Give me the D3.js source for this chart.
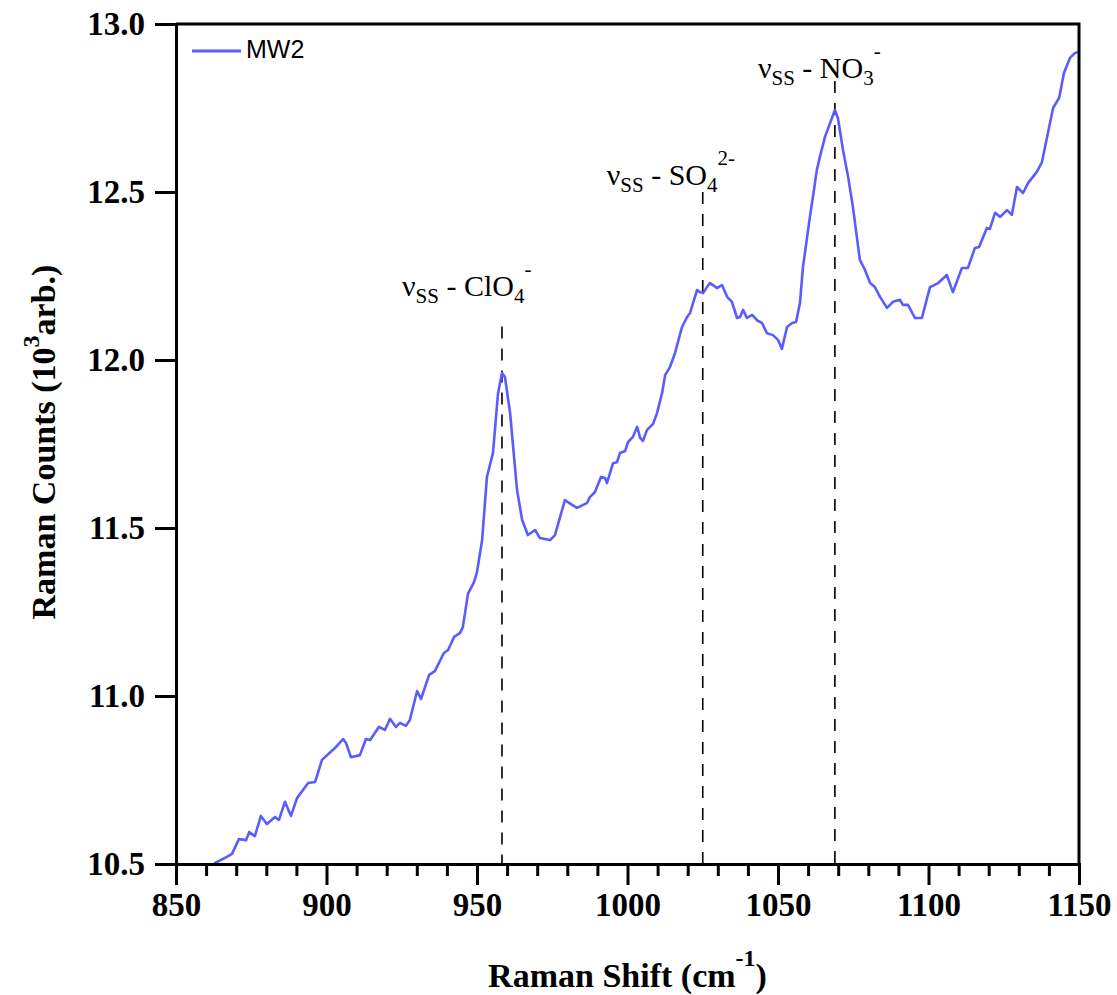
<!DOCTYPE html>
<html>
<head>
<meta charset="utf-8">
<script src="https://cdn.jsdelivr.net/npm/d3@7"></script>
<style>
  body { margin: 0; background: #fff; }
  svg { display: block; }
</style>
</head>
<body>
<div id="chart"><svg width="1117" height="995"></svg></div>
<script>
// Raman spectrum, sample MW2 (x: cm^-1, y: 10^3 counts)
var shift = [860.0, 863.0, 866.9, 868.6, 870.9, 873.3, 874.3, 876.2, 878.2, 880.2, 882.9, 884.2, 886.2, 888.2, 890.2,
  893.9, 896.2, 898.5, 902.8, 905.5, 906.5, 908.1, 911.1, 913.1, 914.5, 917.4, 919.4, 921.1, 923.1, 924.4,
  926.4, 927.7, 930.1, 931.4, 934.1, 936.0, 939.0, 940.4, 942.4, 944.4, 945.3, 947.0, 949.0, 950.0, 951.7,
  953.3, 955.3, 957.0, 958.3, 959.3, 961.0, 963.3, 965.0, 966.9, 969.3, 970.9, 974.3, 975.9, 979.2, 980.2,
  983.2, 986.5, 987.5, 989.2, 991.2, 992.5, 993.2, 995.2, 996.5, 997.5, 999.2, 1000.2, 1001.8, 1003.2, 1004.2,
  1005.1, 1006.5, 1008.5, 1009.8, 1011.5, 1012.5, 1014.1, 1015.8, 1018.1, 1019.8, 1020.8, 1021.8, 1023.1, 1024.1, 1025.1,
  1026.4, 1027.4, 1028.4, 1029.7, 1031.4, 1033.1, 1034.7, 1036.4, 1037.4, 1038.4, 1039.7, 1041.4, 1043.0, 1044.7, 1046.3,
  1048.3, 1050.0, 1051.3, 1053.0, 1054.7, 1056.0, 1057.3, 1058.3, 1060.6, 1061.6, 1062.9, 1063.9, 1065.6, 1067.3, 1068.9,
  1069.9, 1071.6, 1073.3, 1074.9, 1077.2, 1078.9, 1080.6, 1082.2, 1083.9, 1086.2, 1088.2, 1090.5, 1091.5, 1093.2, 1095.5,
  1097.8, 1100.5, 1103.2, 1106.1, 1108.1, 1111.1, 1113.1, 1115.4, 1116.8, 1119.4, 1120.4, 1122.1, 1123.8, 1126.1, 1127.7,
  1129.4, 1131.4, 1133.1, 1136.0, 1137.7, 1139.4, 1141.4, 1143.4, 1145.0, 1147.0, 1148.7, 1149.7];
var counts = [10.46, 10.503, 10.521, 10.530, 10.574, 10.571, 10.595, 10.583, 10.643, 10.619, 10.640, 10.631, 10.685, 10.643, 10.696,
  10.741, 10.744, 10.810, 10.845, 10.872, 10.860, 10.818, 10.824, 10.872, 10.869, 10.908, 10.899, 10.932, 10.908, 10.920,
  10.911, 10.929, 11.015, 10.991, 11.063, 11.074, 11.128, 11.137, 11.176, 11.188, 11.205, 11.304, 11.339, 11.369, 11.464,
  11.652, 11.723, 11.902, 11.961, 11.949, 11.842, 11.613, 11.524, 11.479, 11.494, 11.470, 11.464, 11.479, 11.583, 11.577,
  11.560, 11.574, 11.592, 11.607, 11.652, 11.649, 11.634, 11.693, 11.696, 11.723, 11.729, 11.756, 11.771, 11.801, 11.768,
  11.759, 11.792, 11.810, 11.842, 11.902, 11.955, 11.979, 12.021, 12.098, 12.128, 12.140, 12.170, 12.208, 12.202, 12.199,
  12.217, 12.229, 12.223, 12.214, 12.223, 12.188, 12.173, 12.125, 12.128, 12.149, 12.125, 12.134, 12.119, 12.110, 12.080,
  12.074, 12.060, 12.033, 12.098, 12.110, 12.113, 12.170, 12.277, 12.426, 12.485, 12.565, 12.604, 12.664, 12.705, 12.744,
  12.720, 12.625, 12.545, 12.455, 12.298, 12.268, 12.229, 12.217, 12.188, 12.155, 12.173, 12.179, 12.164, 12.164, 12.125,
  12.125, 12.217, 12.229, 12.253, 12.202, 12.274, 12.274, 12.333, 12.336, 12.393, 12.390, 12.438, 12.426, 12.446, 12.432,
  12.515, 12.497, 12.527, 12.560, 12.589, 12.664, 12.750, 12.780, 12.854, 12.899, 12.914, 12.917];

var xMajor = [850, 900, 950, 1000, 1050, 1100, 1150];
var yMajor = [10.5, 11.0, 11.5, 12.0, 12.5, 13.0];

// peak markers: position, label parts, top of the dashed line (in counts)
var peakPos = [958.3, 1025.0, 1068.9];
var peakIon = ["ClO", "SO", "NO"];
var peakSub = ["4", "4", "3"];
var peakSup = ["-", "2-", "-"];
var peakTop = [12.1, 12.5, 12.83];
var labelY = [12.19, 12.52, 12.84];

var drawChart = function() {
  var svg = d3.select("#chart").select("svg");
  var padLeft = 176, padTop = 24, padRight = 1079, padBottom = 864;
  var serif = "'Liberation Serif', 'Times New Roman', serif";

  var x = d3.scaleLinear().domain([850, 1150]).range([padLeft, padRight]);
  var y = d3.scaleLinear().domain([10.5, 13.0]).range([padBottom, padTop]);

  svg.append("clipPath").attr("id", "plot")
    .append("rect").attr("x", padLeft).attr("y", padTop)
    .attr("width", padRight - padLeft).attr("height", padBottom - padTop);

  // dashed peak markers
  peakPos.forEach(function(p, i) {
    svg.append("line")
      .attr("x1", x(p)).attr("x2", x(p))
      .attr("y1", y(peakTop[i])).attr("y2", padBottom)
      .attr("stroke", "#000").attr("stroke-width", 1.6)
      .attr("stroke-dasharray", "12,10");
  });

  // spectrum
  var pts = shift.map((s, i) => [s, counts[i]]);
  svg.append("path")
    .datum(pts)
    .attr("clip-path", "url(#plot)")
    .attr("fill", "none")
    .attr("stroke", "#5b5bff")
    .attr("stroke-width", 2.6)
    .attr("stroke-linejoin", "round")
    .attr("d", d3.line().x(d => x(d[0])).y(d => y(d[1])));

  // axes
  var xAxis = d3.axisBottom(x).tickValues(xMajor).tickSize(21).tickPadding(8).tickFormat(d3.format("d"));
  var xMinor = d3.axisBottom(x).tickValues(d3.range(860, 1150, 10).filter(v => v % 50 != 0)).tickSize(12).tickFormat("");
  var yAxis = d3.axisLeft(y).tickValues(yMajor).tickSize(21).tickPadding(10).tickFormat(d3.format(".1f"));

  svg.append("g").attr("transform", "translate(0," + padBottom + ")").call(xMinor).classed("axes", true);
  svg.append("g").attr("transform", "translate(0," + padBottom + ")").call(xAxis).classed("axes", true);
  svg.append("g").attr("transform", "translate(" + padLeft + ",0)").call(yAxis).classed("axes", true);

  svg.selectAll(".axes path").attr("stroke-width", 3);
  svg.selectAll(".axes line").attr("stroke-width", 3);
  svg.selectAll(".axes text")
    .attr("font-family", serif).attr("font-weight", "bold").attr("font-size", 33).attr("fill", "#000");

  // frame top and right
  svg.append("path")
    .attr("d", "M" + padLeft + "," + padTop + "H" + padRight + "V" + padBottom)
    .attr("fill", "none").attr("stroke", "#000").attr("stroke-width", 3);

  // peak labels
  var labelShift = [-100, -96, -77];
  peakPos.forEach(function(p, i) {
    var t = svg.append("text")
      .attr("x", x(p) + labelShift[i])
      .attr("y", y(labelY[i]))
      .attr("font-family", serif).attr("font-size", 30).attr("fill", "#000");
    t.append("tspan").text("\u03bd");
    t.append("tspan").attr("font-size", 21).attr("dy", 7).text("SS");
    t.append("tspan").attr("dy", -7).text(" - " + peakIon[i]);
    t.append("tspan").attr("font-size", 21).attr("dy", 7).text(peakSub[i]);
    t.append("tspan").attr("font-size", 21).attr("dy", -27).text(peakSup[i]);
  });

  // legend
  svg.append("line").attr("x1", 192).attr("x2", 241).attr("y1", 51).attr("y2", 51)
    .attr("stroke", "#5b5bff").attr("stroke-width", 3);
  svg.append("text").attr("x", 246).attr("y", 58)
    .attr("font-family", "'Liberation Sans', Arial, sans-serif").attr("font-size", 25)
    .text("MW2");

  // axis titles
  var xt = svg.append("text")
    .attr("x", (padLeft + padRight) / 2).attr("y", 987)
    .attr("text-anchor", "middle")
    .attr("font-family", serif).attr("font-weight", "bold").attr("font-size", 34);
  xt.append("tspan").text("Raman Shift (cm");
  xt.append("tspan").attr("font-size", 24).attr("dy", -21).text("-1");
  xt.append("tspan").attr("dy", 21).text(")");

  var yt = svg.append("text")
    .attr("transform", "translate(55,442) rotate(-90)")
    .attr("text-anchor", "middle")
    .attr("font-family", serif).attr("font-weight", "bold").attr("font-size", 34);
  yt.append("tspan").text("Raman Counts (10");
  yt.append("tspan").attr("font-size", 24).attr("dy", -16).text("3");
  yt.append("tspan").attr("dy", 16).text("arb.)");
};

drawChart();
</script>
</body>
</html>
